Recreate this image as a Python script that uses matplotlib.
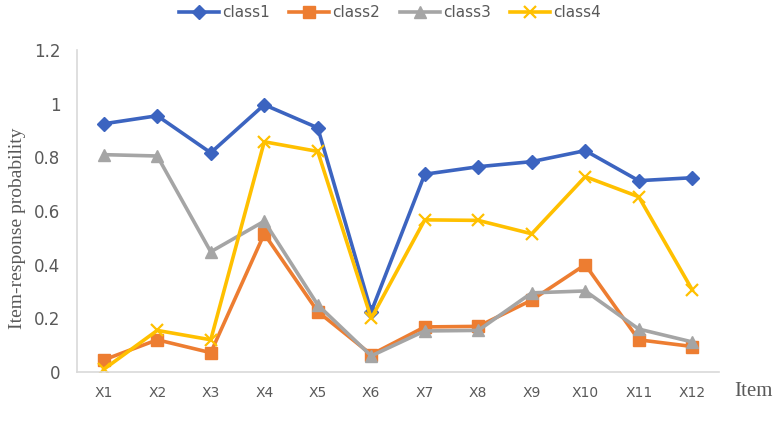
import matplotlib
matplotlib.use("Agg")
import matplotlib.pyplot as plt

# item labels and response probabilities
items = ['X1', 'X2', 'X3', 'X4', 'X5', 'X6', 'X7', 'X8', 'X9', 'X10', 'X11', 'X12']
class1 = [0.925, 0.955, 0.817, 0.996, 0.910, 0.225, 0.737, 0.765, 0.784, 0.825, 0.713, 0.724]
class2 = [0.045, 0.120, 0.072, 0.515, 0.225, 0.065, 0.168, 0.170, 0.268, 0.400, 0.120, 0.095]
class3 = [0.810, 0.805, 0.448, 0.562, 0.250, 0.060, 0.153, 0.155, 0.295, 0.302, 0.160, 0.112]
class4 = [0.010, 0.155, 0.120, 0.858, 0.822, 0.200, 0.567, 0.565, 0.515, 0.728, 0.653, 0.306]
yticks = [0, 0.2, 0.4, 0.6, 0.8, 1.0, 1.2]
ytick_labels = ['0', '0.2', '0.4', '0.6', '0.8', '1', '1.2']

fig = plt.figure(figsize=(7.8, 4.28), dpi=100)
ax = fig.add_axes([77/780, 56/428, 642/780, 322/428])

x = list(range(len(items)))
ax.plot(x, class1, color='#3c64c0', lw=2.6, marker='D', ms=7, label='class1')
ax.plot(x, class2, color='#ed7d31', lw=2.6, marker='s', ms=8, label='class2')
ax.plot(x, class3, color='#a5a5a5', lw=2.6, marker='^', ms=9, label='class3')
ax.plot(x, class4, color='#ffc000', lw=2.6, marker='x', ms=9, mew=1.6, label='class4')

ax.set_xlim(-0.5, len(items) - 0.5)
ax.set_ylim(0, 1.2)
ax.set_xticks(x)
ax.set_xticklabels(items, fontsize=10, color='#595959')
ax.set_yticks(yticks)
ax.set_yticklabels(ytick_labels, fontsize=12, color='#595959')
ax.tick_params(length=0)
ax.tick_params(axis='y', pad=12)
ax.tick_params(axis='x', pad=10)

for s in ['top', 'right']:
    ax.spines[s].set_visible(False)
ax.spines['left'].set_color('#d9d9d9')
ax.spines['bottom'].set_color('#d9d9d9')
ax.spines['left'].set_linewidth(1.2)
ax.spines['bottom'].set_linewidth(1.2)

# axis titles placed like in the original figure
fig.text(18/780, 1 - 228/428, 'Item-response probability', family='Liberation Serif', fontsize=14,
         color='#595959', rotation=90, ha='center', va='center')
fig.text(734/780, 1 - 392/428, 'Item', family='Liberation Serif', fontsize=15, color='#595959', va='center')

fig.legend(loc='upper center', bbox_to_anchor=(0.5, 1.02), ncol=4, frameon=False,
           fontsize=11, handlelength=2.6, columnspacing=1.3, handletextpad=0.2,
           labelcolor='#595959')

fig.savefig('out.png', dpi=100)
